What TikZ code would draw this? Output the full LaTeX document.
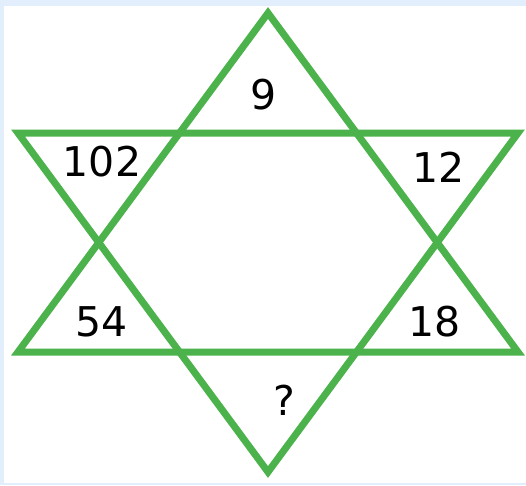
\documentclass[tikz,border=0pt]{standalone}
\usepackage{fontspec}
\setmainfont{DejaVu Sans}
\definecolor{stargreen}{RGB}{76,178,76}
\definecolor{framebl}{RGB}{226,238,252}
\tikzset{
  starline/.style={draw=stargreen,line width=7pt,line join=miter},
  numlabel/.style={font=\fontsize{41}{41}\selectfont,text=black,inner sep=0pt}
}

\begin{document}
\begin{tikzpicture}[x=1pt,y=-1pt]

% Frame and white sheet
\fill[framebl] (0,0) rectangle (526,485);
\fill[white] (4,6) rectangle (526,483);
\useasboundingbox (0,0) rectangle (526,485);

% Corners of the upward triangle
\coordinate (UT) at (268,13);
\coordinate (UL) at (18,352);
\coordinate (UR) at (518,352);

% Corners of the downward triangle
\coordinate (DL) at (18,133);
\coordinate (DR) at (518,133);
\coordinate (DB) at (268,472);

\draw[starline] (UT) -- (UR) -- (UL) -- cycle;
\draw[starline] (DL) -- (DR) -- (DB) -- cycle;

% Numbers in the six points
\node[numlabel] (top)   at (264,95)  {9};
\node[numlabel] (upl)   at (102,162) {102};
\node[numlabel] (upr)   at (439,167) {12};
\node[numlabel] (lowl)  at (102,322) {54};
\node[numlabel] (lowr)  at (435,322) {18};
\node[numlabel] (bot)   at (284,400) {?};

\end{tikzpicture}
\end{document}
